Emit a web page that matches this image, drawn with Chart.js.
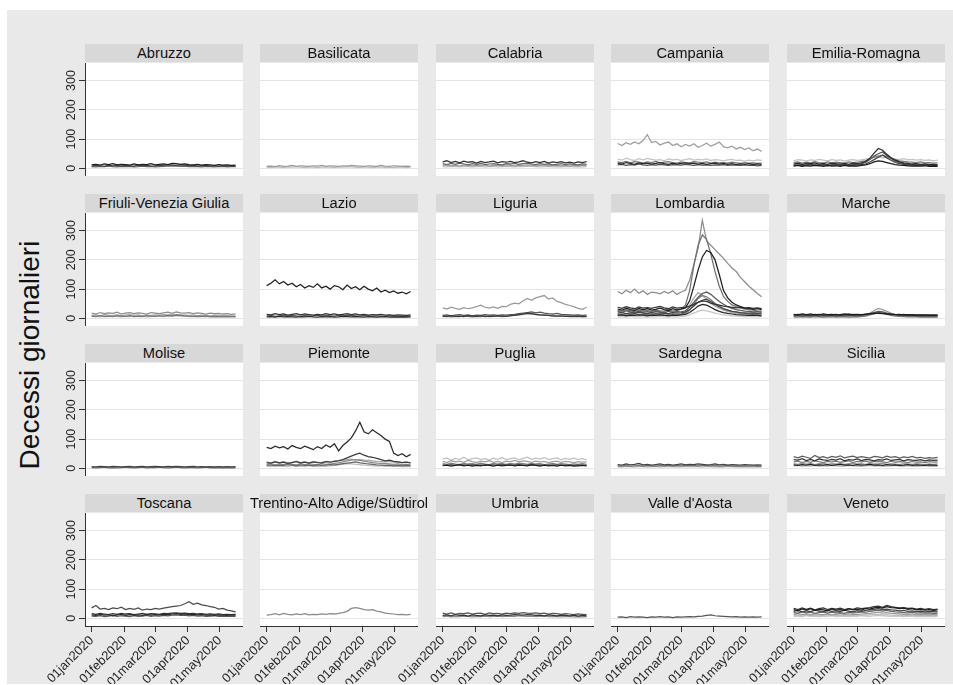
<!DOCTYPE html>
<html><head><meta charset="utf-8">
<script src="https://cdn.jsdelivr.net/npm/chart.js@4.4.1/dist/chart.umd.min.js"></script>
<style>
html,body{margin:0;padding:0;background:#fff;}
#wrap{position:relative;width:953px;height:685px;overflow:hidden;background:#fff;font-family:"Liberation Sans",Arial,sans-serif;}
#bg{position:absolute;left:7px;top:10px;width:946px;height:674px;background:#e9e9e9;}
.tbar{position:absolute;height:18px;background:#d8d8d8;}
.ttxt{position:absolute;height:18px;line-height:18px;font-size:14.7px;color:#111;text-align:center;white-space:nowrap;}
canvas{position:absolute;}
#ytitle{position:absolute;left:30px;top:355px;font-size:28px;color:#111;white-space:nowrap;transform:translate(-50%,-50%) rotate(-90deg);}
</style></head>
<body><div id="wrap"><div id="bg"></div><div id="ytitle">Decessi giornalieri</div></div>
<script>
// ---- data: daily deaths, one value every 4 days from 01jan2020 ----
const days = [0,4,8,12,16,20,24,28,32,36,40,44,48,52,56,60,64,68,72,76,80,84,88,92,96,100,104,108,112,116,120,124,128,132,136];
const tickDays = [0,31,60,91,121];
const tickLabels = ['01jan2020','01feb2020','01mar2020','01apr2020','01may2020'];
const yTicks = [0,100,200,300];
const regions = ['Abruzzo','Basilicata','Calabria','Campania','Emilia-Romagna',
  'Friuli-Venezia Giulia','Lazio','Liguria','Lombardia','Marche',
  'Molise','Piemonte','Puglia','Sardegna','Sicilia',
  'Toscana','Trentino-Alto Adige/Südtirol','Umbria',"Valle d'Aosta",'Veneto'];

const abruzzo = [
 [12,14,11,15,13,16,12,14,13,11,15,12,14,13,16,12,14,15,13,17,16,14,15,13,12,14,11,13,12,10,13,11,12,10,11],
 [8,10,9,7,11,9,10,8,10,9,8,11,9,10,8,9,11,10,12,11,10,12,11,9,10,8,9,10,8,9,7,9,8,9,8],
 [6,5,7,6,8,6,5,7,6,7,5,6,8,6,7,5,6,7,8,9,8,7,8,6,7,6,5,7,6,5,6,7,5,6,6]];
const basilicata = [
 [7,8,6,9,7,8,10,7,9,8,7,9,8,10,7,9,8,7,9,8,10,9,8,7,9,8,7,10,8,7,9,8,7,8,7],
 [4,3,5,4,3,5,4,6,4,3,5,4,3,4,5,4,3,5,4,6,5,4,3,5,4,3,4,5,3,4,3,5,4,3,4]];
const calabria = [
 [22,26,20,24,19,25,21,23,18,24,20,22,25,19,23,21,24,20,22,26,21,19,23,20,24,18,22,20,23,19,21,18,22,20,23],
 [16,13,17,14,18,15,12,16,14,17,13,15,16,14,12,16,15,17,14,16,18,15,13,16,14,15,12,14,16,13,15,14,12,15,14],
 [10,12,9,11,8,12,10,9,11,10,12,8,10,11,9,12,10,9,11,10,12,11,9,10,12,9,10,11,9,10,8,10,9,11,10],
 [6,5,7,6,5,7,6,5,6,7,5,6,7,5,6,7,6,5,7,6,8,7,6,5,6,7,5,6,5,6,7,5,6,5,6]];
const campania = [
 [18,15,20,17,14,19,16,18,15,17,20,16,14,18,15,17,19,16,18,15,17,14,16,18,15,17,14,16,13,15,14,16,13,15,14],
 [12,14,10,13,11,15,12,10,13,11,14,12,10,13,12,11,14,12,10,13,11,12,10,12,11,13,10,12,11,10,12,10,11,9,10],
 [22,20,24,19,23,21,18,22,20,24,19,21,23,20,18,22,20,19,23,21,20,22,18,21,19,20,18,21,19,17,20,18,19,17,18],
 [85,78,88,82,90,84,95,115,88,92,80,86,90,78,84,74,82,76,84,72,78,86,76,82,90,74,70,76,66,72,64,70,60,66,58],
 [32,28,35,30,27,33,29,34,31,28,30,26,32,29,31,27,30,33,28,31,29,32,27,30,28,26,29,31,27,28,25,28,26,29,27]];
const emiliaRomagna = [
 [15,18,14,17,16,19,15,17,14,18,16,15,17,14,18,16,19,24,35,52,68,62,48,36,28,22,19,17,15,16,14,15,13,14,12],
 [8,10,7,9,8,10,9,7,10,8,9,7,10,8,9,8,10,12,16,22,26,24,20,16,13,11,10,9,8,9,8,9,7,8,7],
 [10,12,9,11,13,10,12,11,9,12,10,11,13,10,12,11,13,15,22,30,38,45,36,28,20,16,14,12,11,10,12,10,11,9,10],
 [12,10,13,11,14,12,10,13,11,12,14,10,13,11,12,14,16,20,30,42,50,56,44,34,25,20,16,14,13,12,11,12,10,11,10],
 [20,22,18,21,19,23,20,18,22,19,21,20,18,22,20,21,24,26,32,38,42,45,40,36,30,26,24,22,21,20,22,19,20,18,19],
 [26,30,28,25,29,27,31,28,26,30,27,29,25,28,30,27,29,32,34,38,40,36,38,34,32,30,33,29,31,28,30,27,29,26,28]];
const friuli = [
 [8,6,9,7,8,6,9,8,7,9,6,8,7,9,8,7,9,8,10,9,11,10,9,8,7,8,7,8,6,7,6,7,6,7,6],
 [18,15,20,16,19,17,21,15,18,20,16,19,17,15,20,18,16,19,21,17,22,19,18,20,16,19,17,15,18,16,17,15,16,14,15],
 [10,12,9,13,11,10,12,9,11,13,10,12,9,11,10,12,11,13,12,14,13,12,11,10,12,9,11,10,9,11,10,9,10,8,9],
 [6,8,5,7,6,8,7,5,7,6,8,6,7,5,6,8,7,6,8,7,9,8,7,6,7,5,6,7,5,6,5,6,5,6,5]];
const lazio = [
 [112,120,132,118,126,114,120,108,116,104,112,106,118,104,110,100,112,108,98,114,102,108,98,110,100,94,104,90,96,88,94,86,90,84,92],
 [14,12,16,13,15,11,14,16,12,15,13,11,14,12,16,13,15,12,14,16,13,15,12,14,11,13,12,14,11,12,10,12,11,10,12],
 [5,6,4,7,5,6,5,4,6,5,7,5,4,6,5,6,4,5,7,6,5,6,5,4,6,5,4,5,6,4,5,4,5,4,5],
 [8,10,7,9,11,8,10,9,7,10,8,9,11,8,10,9,8,10,9,11,10,9,8,10,9,7,9,8,7,9,8,7,8,7,8]];
const liguria = [
 [8,6,9,7,8,6,9,8,7,9,6,8,7,9,8,7,9,11,13,15,18,16,14,12,11,10,9,8,9,7,8,7,8,6,7],
 [10,12,9,11,13,10,12,9,11,10,13,11,12,10,12,11,13,14,16,18,20,22,19,21,18,16,15,17,14,13,12,11,12,10,11],
 [6,8,5,7,6,8,7,5,7,6,8,6,7,8,6,7,9,10,12,14,16,15,13,12,11,10,9,8,7,8,6,7,6,7,6],
 [36,32,38,34,31,37,33,36,40,45,38,35,39,34,41,40,48,52,50,60,68,62,70,74,78,66,70,58,54,48,44,40,34,31,38]];
const lombardia = [
 [32,28,35,30,27,34,29,33,28,31,35,30,27,33,29,32,36,60,110,165,210,232,225,200,150,95,70,55,46,40,36,34,31,33,30],
 [38,34,40,36,33,39,35,37,34,38,41,36,33,39,35,37,38,42,48,55,60,58,52,48,45,42,40,38,36,38,35,37,34,36,33],
 [10,12,9,11,10,12,11,9,11,10,12,10,9,11,10,12,14,20,30,42,48,45,38,30,24,20,17,15,13,12,11,10,11,10,9],
 [18,20,16,19,17,21,18,16,20,17,19,18,16,20,18,19,22,30,42,55,62,66,58,48,40,32,28,24,22,20,19,18,19,17,18],
 [24,20,26,22,19,25,21,23,20,24,22,19,25,21,23,22,26,38,55,72,85,90,82,70,58,48,40,34,30,27,25,24,22,23,21],
 [28,24,30,26,22,29,25,27,23,28,26,24,30,25,27,32,45,95,180,250,285,270,220,160,110,75,58,46,40,36,32,30,28,26,25],
 [14,12,15,13,16,12,14,13,15,12,14,16,13,15,12,14,18,28,48,68,78,74,64,52,42,34,28,24,21,19,17,16,15,16,14],
 [92,84,96,88,100,86,94,82,90,88,84,92,86,94,82,90,96,130,185,240,335,265,250,235,220,205,188,172,160,140,125,110,98,85,74],
 [12,14,10,13,11,15,12,10,13,11,14,12,10,13,12,14,22,45,70,88,80,65,52,42,35,28,24,20,18,16,15,14,13,14,12],
 [5,6,4,7,5,6,5,4,6,5,7,5,4,6,5,6,8,12,18,24,28,26,22,18,15,12,10,9,8,7,6,7,6,5,6]];
const marche = [
 [14,12,15,13,11,14,12,15,13,14,12,13,15,12,14,13,12,14,15,16,18,17,15,14,13,14,12,13,12,11,12,11,12,10,11],
 [12,14,11,13,15,12,14,11,13,12,14,11,13,15,12,14,13,15,16,18,17,16,15,14,13,12,14,11,13,12,11,12,10,12,11],
 [9,11,8,10,9,11,8,10,9,11,8,10,9,11,10,9,11,13,16,20,24,22,18,15,13,11,10,9,10,8,9,8,9,8,9],
 [5,4,6,5,4,6,5,4,5,6,4,5,6,4,5,5,6,8,12,16,20,18,14,10,8,7,6,5,6,5,4,5,4,5,4],
 [6,8,5,7,6,8,7,5,7,6,8,6,7,5,7,6,8,11,18,26,34,30,24,18,14,10,9,8,7,8,6,7,6,7,6]];
const molise = [
 [6,5,7,6,5,7,6,5,6,7,5,6,7,5,6,7,6,5,7,6,7,6,5,6,7,5,6,5,6,5,6,5,6,5,6],
 [3,2,3,4,2,3,2,3,4,3,2,3,4,2,3,3,4,3,2,3,4,3,2,3,3,2,3,4,2,3,2,3,2,3,2]];
const piemonte = [
 [72,68,76,70,74,66,78,72,68,76,70,64,74,68,80,72,84,60,78,90,104,128,158,125,118,132,122,112,100,92,52,44,50,40,48],
 [20,18,22,19,21,17,20,23,19,21,18,22,20,19,23,21,24,26,30,36,42,48,52,45,40,38,34,30,26,28,24,22,20,21,19],
 [10,12,9,11,10,13,11,9,12,10,11,9,12,10,11,13,12,14,16,18,20,22,19,17,15,14,12,11,10,11,9,10,9,10,9],
 [14,16,12,15,13,17,14,12,16,13,15,14,12,16,14,15,17,19,22,26,28,30,27,25,22,20,18,17,16,15,14,15,13,14,12],
 [22,19,24,20,23,18,21,25,20,22,19,23,21,20,24,22,25,27,28,30,32,29,31,28,27,26,24,23,22,24,21,22,20,21,19],
 [8,6,9,7,8,6,9,7,8,6,9,7,6,8,7,9,10,12,14,16,15,14,13,11,10,9,8,9,7,8,7,8,6,7,6]];
const puglia = [
 [9,11,8,10,12,9,11,8,10,9,12,10,8,11,9,10,12,9,11,10,9,12,10,8,11,9,10,8,11,9,10,8,9,10,9],
 [12,10,13,11,14,12,10,13,11,12,10,13,12,11,14,12,10,12,13,11,12,14,11,12,10,12,11,13,10,12,11,10,12,11,10],
 [16,14,18,15,13,17,15,16,14,18,15,13,17,15,16,14,17,15,18,16,14,17,15,16,13,15,17,14,16,15,13,15,14,16,14],
 [24,20,26,22,25,21,27,23,20,25,22,26,21,24,20,25,23,27,22,26,24,21,25,22,24,20,23,25,21,24,22,20,23,21,22],
 [32,36,28,34,30,38,29,33,36,30,34,28,35,31,37,30,33,36,29,34,38,31,35,32,37,30,33,36,29,34,31,35,30,33,29]];
const sardegna = [
 [13,11,15,12,14,17,12,14,11,13,15,12,14,11,13,15,12,14,13,15,14,12,13,15,12,14,11,13,12,11,13,12,11,12,11],
 [9,8,10,7,9,11,8,10,9,8,10,9,11,8,10,9,10,11,10,9,11,10,9,10,8,9,10,8,9,8,9,8,9,7,8],
 [6,5,7,6,5,7,6,5,6,7,5,6,7,6,5,6,7,6,7,6,5,7,6,5,6,5,7,6,5,6,5,6,5,6,5]];
const sicilia = [
 [12,10,13,11,14,10,12,11,13,10,12,14,11,12,10,13,11,12,14,11,12,10,13,11,12,10,11,13,10,12,11,10,12,11,10],
 [30,28,33,27,31,26,32,29,27,31,28,33,26,30,28,32,27,31,29,26,30,28,32,27,29,31,26,30,28,27,30,26,29,27,28],
 [40,36,42,38,34,44,37,40,35,41,38,43,36,39,42,37,40,38,35,41,39,36,42,38,40,35,39,37,41,36,38,34,37,35,38],
 [22,25,20,24,21,26,23,20,24,22,25,21,23,26,20,24,22,25,21,23,24,22,20,25,21,23,22,20,24,21,22,20,23,21,22],
 [16,14,18,15,17,13,16,18,14,16,15,17,14,16,18,15,16,14,17,15,16,18,14,16,15,13,16,15,14,16,15,13,15,14,15],
 [8,10,7,9,8,10,7,9,8,10,9,7,8,10,9,8,7,9,10,8,9,7,8,9,10,8,7,9,8,7,8,9,7,8,7]];
const toscana = [
 [12,10,14,11,13,9,12,14,10,13,11,12,10,14,11,13,12,14,13,15,16,14,15,13,14,12,13,11,12,10,12,11,10,12,11],
 [16,14,17,15,13,16,14,17,15,16,13,15,17,14,16,15,14,17,16,18,19,17,18,16,17,15,16,14,15,14,15,13,14,13,14],
 [8,7,9,6,8,10,7,9,8,6,9,7,8,10,7,9,8,10,9,11,12,10,11,9,10,8,9,7,8,9,7,8,7,8,7],
 [36,44,32,34,30,36,33,38,30,34,31,36,28,32,30,34,32,35,38,40,42,44,50,57,48,52,46,44,40,38,32,34,28,26,22]];
const trentino = [
 [11,13,16,12,17,14,12,15,13,16,12,14,13,15,14,16,15,17,20,24,34,37,34,30,28,30,25,22,18,16,15,13,14,12,14]];
const umbria = [
 [10,12,9,13,10,11,8,12,10,9,12,10,11,9,12,10,11,13,12,11,13,12,10,11,9,12,10,9,11,10,9,11,8,10,9],
 [18,15,19,14,17,16,19,15,17,18,14,19,16,17,15,18,16,19,17,20,18,17,19,16,18,15,17,16,14,16,15,13,15,14,13],
 [6,8,5,7,6,8,7,5,7,6,8,6,7,8,6,7,8,7,9,8,7,8,6,7,8,6,7,6,5,7,6,5,6,5,6]];
const valleAosta = [
 [4,5,3,6,4,5,4,3,5,4,6,4,5,3,5,4,5,6,5,7,8,10,12,9,8,7,6,5,6,4,5,4,5,4,5]];
const veneto = [
 [30,26,32,28,33,27,31,29,26,32,28,30,27,33,29,31,28,34,32,36,38,35,40,37,36,33,35,31,33,29,31,28,30,27,29],
 [34,30,36,31,35,29,33,36,30,34,32,35,30,33,31,36,33,35,37,40,42,38,44,40,38,36,37,34,35,32,34,31,33,30,32],
 [24,27,22,26,23,28,25,22,27,24,26,23,28,25,22,26,24,27,29,31,33,30,32,29,28,26,27,24,26,23,25,22,24,23,22],
 [20,18,22,19,21,17,20,22,18,21,19,20,17,21,19,20,22,21,24,26,28,25,27,24,22,21,20,19,21,18,20,18,19,17,18],
 [14,16,13,15,12,16,14,13,15,12,14,16,13,15,14,13,15,16,17,19,21,18,20,17,16,15,14,13,15,12,14,13,12,14,12],
 [10,11,9,12,10,11,9,10,12,9,11,10,9,11,10,12,10,11,12,13,14,12,13,11,10,11,9,10,11,9,10,9,10,9,10],
 [7,8,6,9,7,8,6,8,7,9,6,8,7,6,8,7,9,8,7,9,10,9,8,7,8,7,6,8,7,6,7,6,7,6,7]];

const panelSeries = [abruzzo,basilicata,calabria,campania,emiliaRomagna,friuli,lazio,liguria,lombardia,marche,
  molise,piemonte,puglia,sardegna,sicilia,toscana,trentino,umbria,valleAosta,veneto];

// ---- styles (grey shades per series) ----
const panelShades = [
 ['#1f1f1f','#444','#666'],
 ['#9a9a9a','#bdbdbd'],
 ['#333','#666','#999','#bbb'],
 ['#2a2a2a','#4f4f4f','#777','#9d9d9d','#c4c4c4'],
 ['#2b2b2b','#1a1a1a','#444','#555','#7a7a7a','#c2c2c2'],
 ['#777','#8d8d8d','#a8a8a8','#b8b8b8'],
 ['#1e1e1e','#333','#2a2a2a','#555'],
 ['#3a3a3a','#555','#777','#9a9a9a'],
 ['#1e1e1e','#333','#262626','#444','#5a5a5a','#707070','#7a7a7a','#8c8c8c','#a6a6a6','#c8c8c8'],
 ['#1e1e1e','#333','#555','#777','#9a9a9a'],
 ['#444','#666'],
 ['#2a2a2a','#3c3c3c','#666','#8a8a8a','#a8a8a8','#bfbfbf'],
 ['#1e1e1e','#555','#808080','#a0a0a0','#c0c0c0'],
 ['#444','#777','#a5a5a5'],
 ['#1e1e1e','#333','#5a5a5a','#7a7a7a','#999','#b5b5b5'],
 ['#2a2a2a','#333','#555','#4a4a4a'],
 ['#8a8a8a'],
 ['#333','#555','#888'],
 ['#555'],
 ['#1e1e1e','#333','#444','#666','#9a9a9a','#bdbdbd','#c8c8c8']];

const colLeft = [85,260,436,611,787];
const FONT = 'Liberation Sans';

const plotBg = {id:'plotBg', beforeDraw(c){const a=c.chartArea,ctx=c.ctx;ctx.save();ctx.fillStyle='#fff';ctx.fillRect(a.left,a.top,a.right-a.left,a.bottom-a.top);ctx.restore();}};
// vertical y tick labels, placed through the y scale
const yTickText = {id:'yTickText', afterDraw(c){
  const s=c.scales.y, ctx=c.ctx; ctx.save();
  ctx.fillStyle='#222'; ctx.font='12.5px "'+FONT+'"'; ctx.textAlign='center'; ctx.textBaseline='alphabetic';
  yTicks.forEach(v=>{const y=s.getPixelForValue(v); ctx.save(); ctx.translate(c.chartArea.left-10,y); ctx.rotate(-Math.PI/2); ctx.fillText(String(v),0,0); ctx.restore();});
  ctx.restore();}};

const wrap = document.getElementById('wrap');
regions.forEach((name, p) => {
  const r = Math.floor(p/5), c = p%5;
  const pl = colLeft[c], pt = 63 + 150*r, pw = 158, ph = 113;
  const bar = document.createElement('div');
  bar.className='tbar'; bar.style.left=pl+'px'; bar.style.top=(44+150*r)+'px'; bar.style.width=pw+'px';
  wrap.appendChild(bar);
  const t = document.createElement('div');
  t.className='ttxt'; t.style.left=(pl-30)+'px'; t.style.width=(pw+60)+'px'; t.style.top=(44+150*r)+'px';
  t.textContent = name; wrap.appendChild(t);

  const le = (c===0 || r===3) ? 45 : 0, be = r===3 ? 58 : 0;
  const cv = document.createElement('canvas');
  cv.width = pw+le; cv.height = ph+be;
  cv.style.left=(pl-le)+'px'; cv.style.top=pt+'px'; cv.style.width=(pw+le)+'px'; cv.style.height=(ph+be)+'px';
  wrap.appendChild(cv);

  const series = panelSeries[p], shades = panelShades[p];
  const datasets = series.map((vals,k)=>({
    data: vals.map((v,i)=>({x:days[i], y:v})),
    borderColor: shades[k % shades.length], borderWidth: 1.25,
    pointRadius: 0, tension: 0, fill: false
  }));

  new Chart(cv, {
    type:'line',
    data:{datasets},
    plugins: c===0 ? [plotBg, yTickText] : [plotBg],
    options:{
      responsive:false, animation:false, devicePixelRatio:1,
      layout:{padding:0, autoPadding:false},
      plugins:{legend:{display:false}, tooltip:{enabled:false}, title:{display:false}},
      scales:{
        x:{type:'linear', min:-6.3, max:143, display: r===3,
           afterBuildTicks:s=>{s.ticks = tickDays.map(v=>({value:v}));},
           afterFit:s=>{s.height = be; s.paddingLeft=0; s.paddingRight=0; s.paddingTop=0; s.paddingBottom=0;},
           grid:{drawOnChartArea:false, drawTicks:true, tickLength:6, tickColor:'#333'},
           border:{display:true, color:'#333', width:1},
           ticks:{autoSkip:false, minRotation:45, maxRotation:45, padding:1, color:'#222',
                  font:{family:FONT, size:12.8}, callback:(v,i)=>tickLabels[i]}},
        y:{type:'linear', min:-26, max:360,
           afterBuildTicks:s=>{s.ticks = yTicks.map(v=>({value:v}));},
           afterFit:s=>{s.width = le; s.paddingLeft=0; s.paddingRight=0; s.paddingTop=0; s.paddingBottom=0;},
           grid:{color:'#e4e4e4', lineWidth:1, drawTicks:c===0, tickLength:6, tickColor:'#333'},
           border:{display:c===0, color:'#333', width:1},
           ticks:{display:false}}
      }
    }
  });
});
</script></body></html>
